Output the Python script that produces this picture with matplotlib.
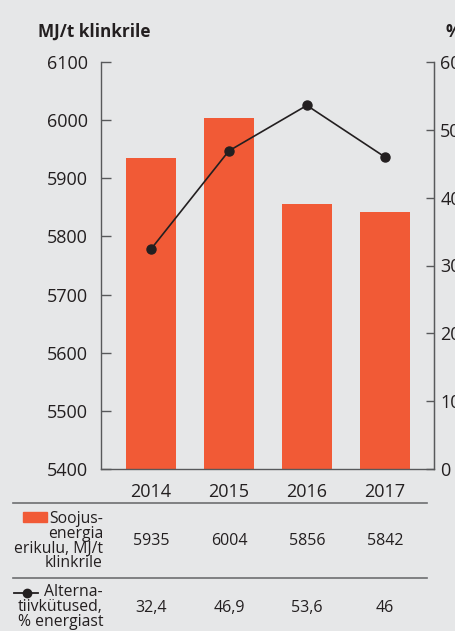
import numpy as np
import matplotlib.pyplot as plt
from matplotlib.patches import Rectangle
from matplotlib.lines import Line2D
from matplotlib.transforms import blended_transform_factory

# andmed
aastad = ['2014', '2015', '2016', '2017']
soojusenergia = [5935, 6004, 5856, 5842]   # MJ/t klinkrile
alternatiiv = [32.4, 46.9, 53.6, 46]       # % energiast
vasak_ticks = [5400, 5500, 5600, 5700, 5800, 5900, 6000, 6100]
parem_ticks = [0, 10, 20, 30, 40, 50, 60]

taust = '#e6e7e8'
oranz = '#f15a36'
tume = '#231f20'
hall = '#58595b'

plt.rcParams['font.family'] = ['Open Sans', 'DejaVu Sans']

W, H = 455, 631
fig = plt.figure(figsize=(W / 100, H / 100), dpi=100, facecolor=taust)


def fx(px):
    return px / W


def fy(py):
    return 1 - py / H


ax = fig.add_axes([fx(101), fy(469), (434 - 101) / W, (469 - 62) / H])
ax.set_facecolor('none')
x = np.arange(len(aastad))
ax.bar(x, soojusenergia, width=0.64, color=oranz, zorder=2)
ax.set_xlim(-0.64, 3.63)
ax.set_ylim(5400, 6100)
ax.set_yticks(vasak_ticks)
ax.set_xticks(x)
ax.set_xticklabels(aastad)
ax.tick_params(axis='y', direction='in', length=7, width=1, color=hall,
               pad=9.5, labelsize=13, labelcolor=tume)
ax.tick_params(axis='x', length=0, pad=10, labelsize=13, labelcolor=tume)
for s in ['left', 'right', 'bottom']:
    ax.spines[s].set_color(hall)
    ax.spines[s].set_linewidth(1)
ax.spines['top'].set_visible(False)

ax2 = ax.twinx()
ax2.plot(x, alternatiiv, color=tume, lw=1.2, marker='o', ms=6.5, zorder=3)
ax2.set_ylim(0, 60)
ax2.set_yticks(parem_ticks)
ax2.tick_params(axis='y', direction='in', length=6, width=1, color=hall,
                pad=4.5, labelsize=13, labelcolor=tume)
for s in ['left', 'top', 'bottom']:
    ax2.spines[s].set_visible(False)
ax2.spines['right'].set_color(hall)

# telje pealkirjad
fig.text(fx(38), fy(32), 'MJ/t klinkrile', fontsize=12.3, fontweight='bold',
         color=tume, ha='left', va='center')
fig.text(fx(446), fy(32), '%', fontsize=12.3, fontweight='bold',
         color=tume, ha='left', va='center')

# tabel graafiku all
trans = blended_transform_factory(ax.transData, fig.transFigure)
for i in range(len(aastad)):
    fig.text(x[i], fy(541), str(soojusenergia[i]), transform=trans,
             ha='center', va='center', fontsize=11.5, color=tume)
    fig.text(x[i], fy(608), f"{alternatiiv[i]:g}".replace('.', ','),
             transform=trans, ha='center', va='center', fontsize=11.5, color=tume)

for py in [503, 578]:
    fig.add_artist(Line2D([fx(13), fx(427)], [fy(py), fy(py)],
                          transform=fig.transFigure, color='#6d6e71', lw=1.2))

fig.text(fx(103), fy(541), 'Soojus-\nenergia\nerikulu, MJ/t\nklinkrile',
         ha='right', va='center', multialignment='right', fontsize=11.3,
         linespacing=0.9, color=tume)
fig.text(fx(103), fy(607), 'Alterna-\ntiivkütused,\n% energiast',
         ha='right', va='center', multialignment='right', fontsize=11.3,
         linespacing=0.9, color=tume)

# legendi märgid
fig.add_artist(Rectangle((fx(23), fy(522)), (47 - 23) / W, 10 / H,
                         transform=fig.transFigure, color=oranz))
fig.add_artist(Line2D([fx(14), fx(38)], [fy(593), fy(593)],
                      transform=fig.transFigure, color=tume, lw=1.3))
fig.add_artist(Line2D([fx(27)], [fy(593)], transform=fig.transFigure,
                      color=tume, marker='o', ms=6))

fig.savefig('out.png', dpi=100, facecolor=taust)
